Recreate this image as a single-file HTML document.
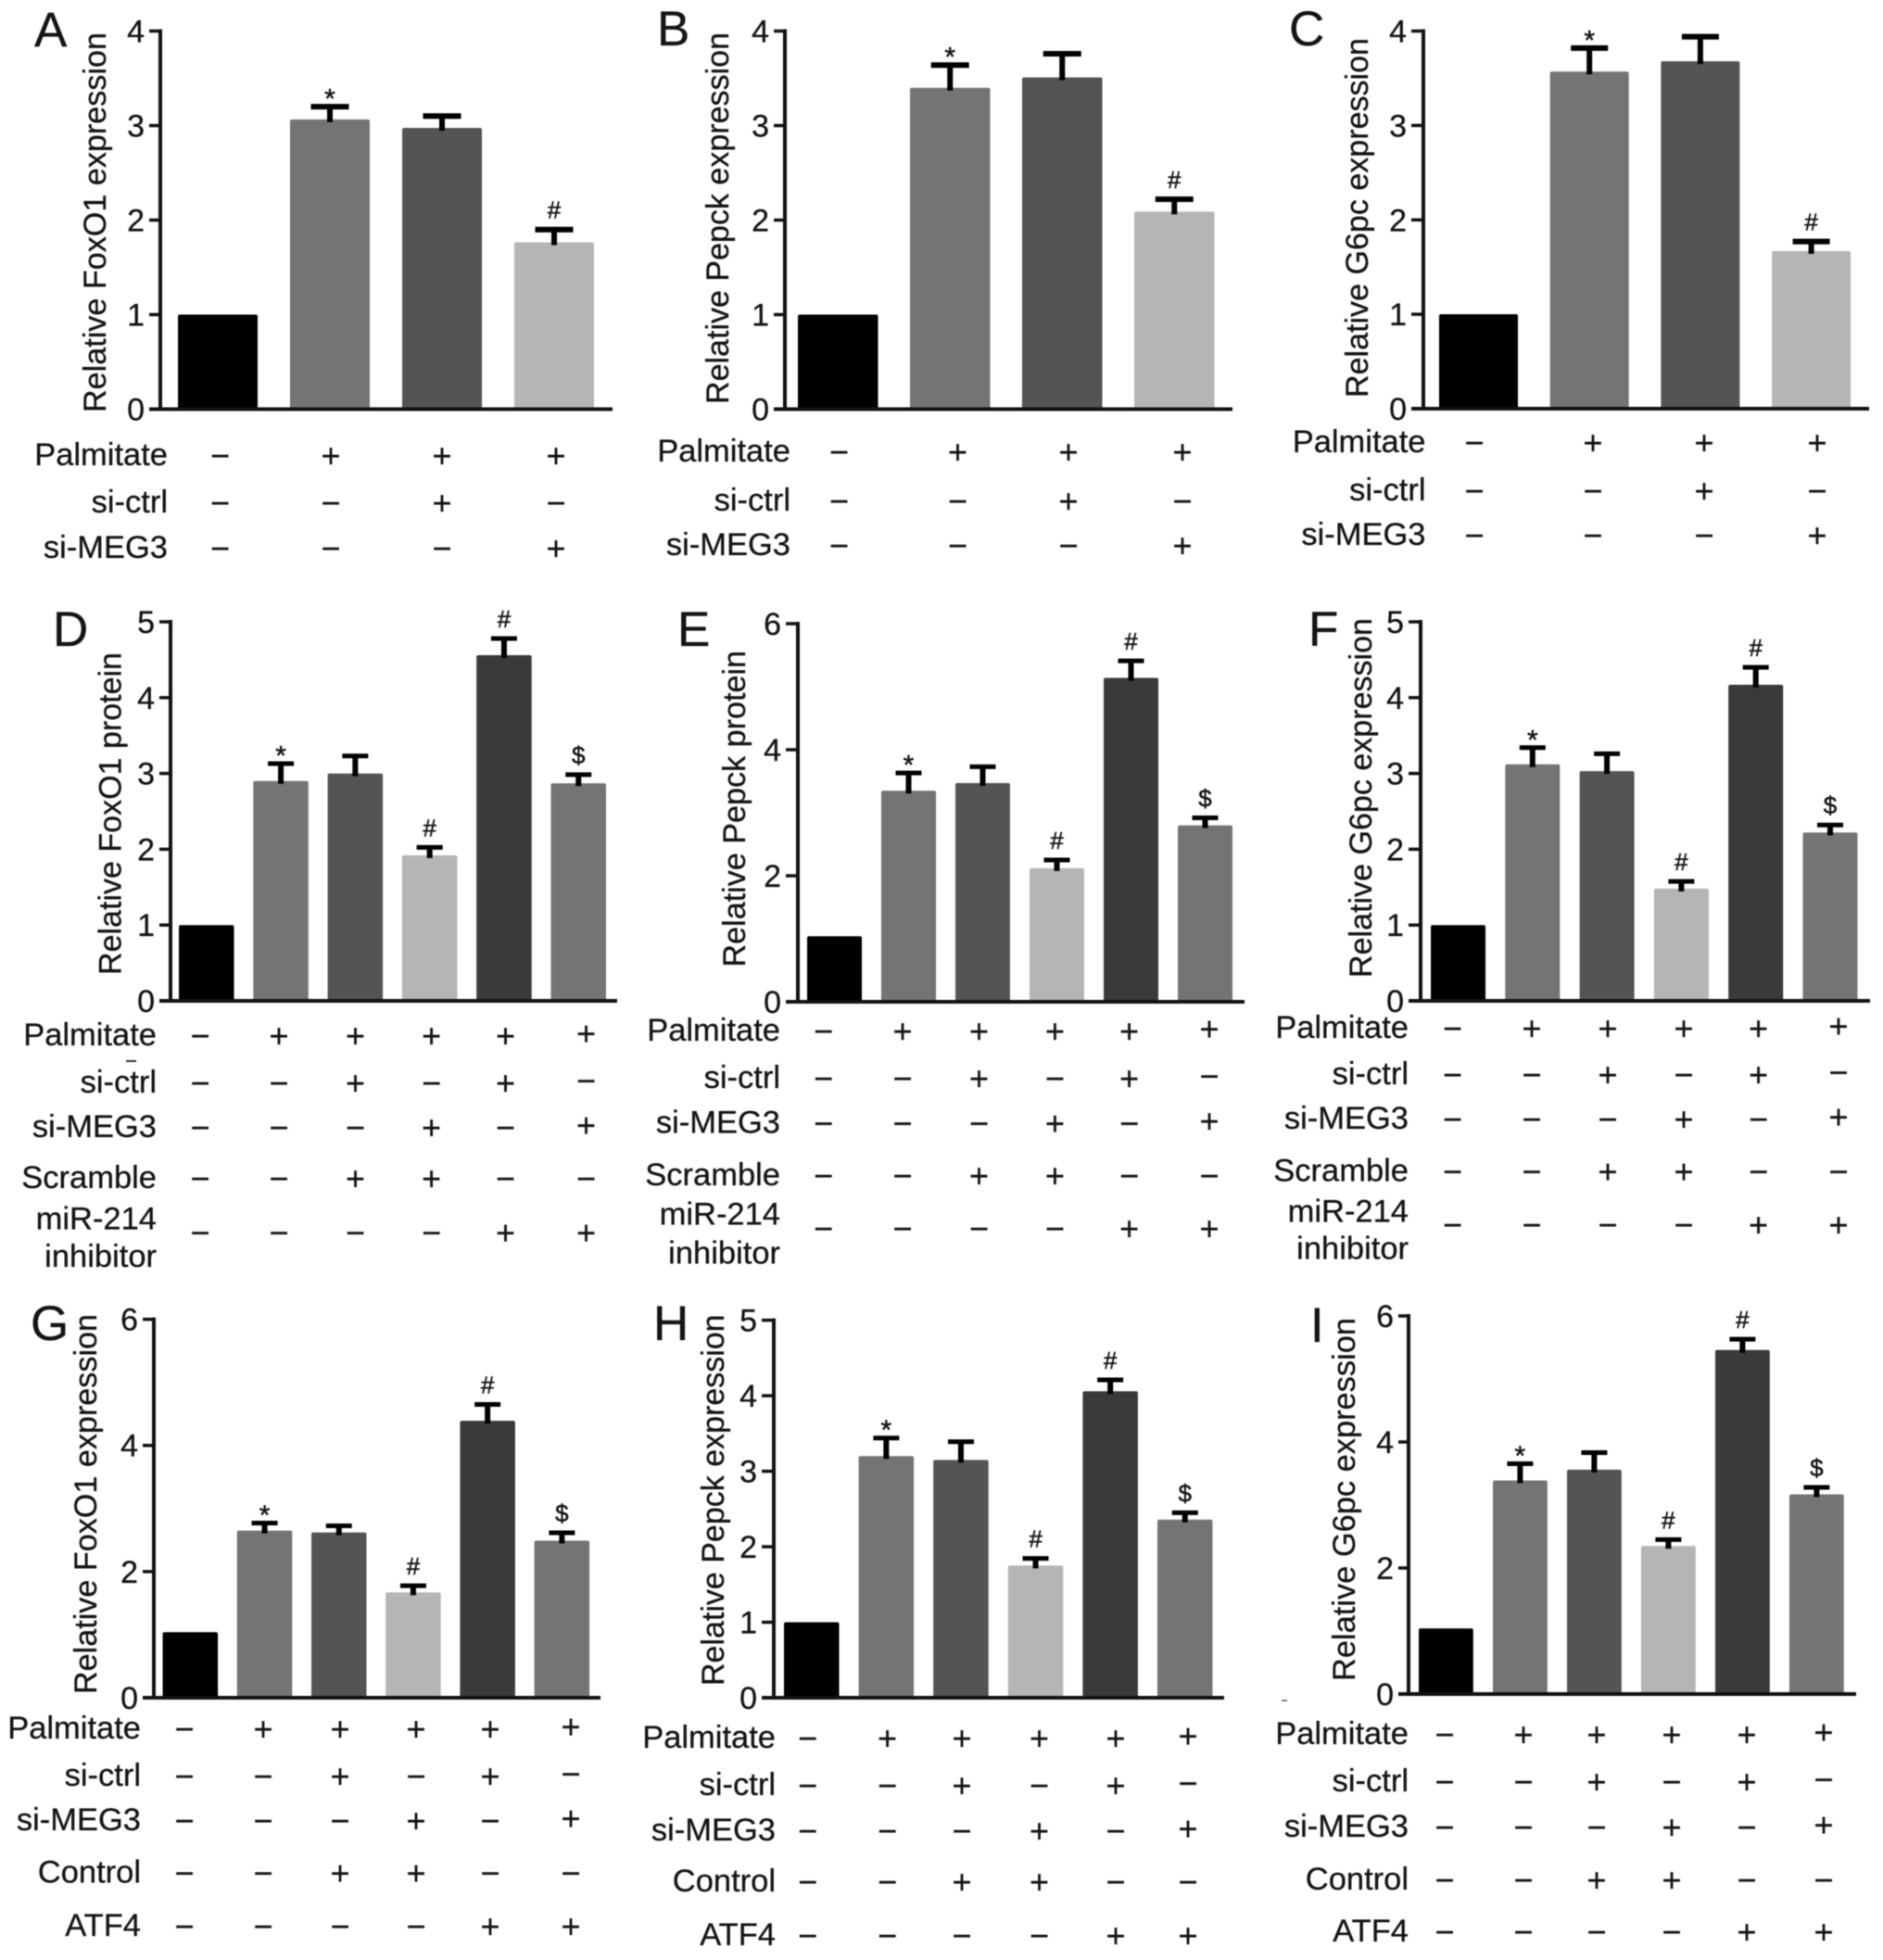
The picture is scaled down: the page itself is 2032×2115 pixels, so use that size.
<!DOCTYPE html>
<html lang="en">
<head>
<meta charset="utf-8">
<title>Relative expression bar charts</title>
<style>
html,body{margin:0;padding:0;background:#fff;}
#figure{display:block;width:2032px;height:2115px;filter:blur(0.6px);font-family:"Liberation Sans",Arial,sans-serif;}
text{fill:#141414;stroke:#141414;stroke-width:0.3px;}
</style>
</head>
<body>
<svg id="figure" xmlns="http://www.w3.org/2000/svg" width="2032" height="2115" viewBox="0 0 2032 2115"></svg>
<script>
// ---------- data ----------
const ticksAB = [0, 1, 2, 3, 4];
const ticks5 = [0, 1, 2, 3, 4, 5];
const ticks6 = [0, 2, 4, 6];
const barColors4 = ['#000000', '#747474', '#545454', '#b5b5b5'];
const barColors6 = ['#000000', '#747474', '#545454', '#b5b5b5', '#3a3a3a', '#747474'];

const valuesA = [1, 3.065, 2.975, 1.765];
const errorsA = [0, 0.135, 0.125, 0.135];
const marksA = ['', '*', '', '#'];
const valuesB = [1, 3.40, 3.51, 2.09];
const errorsB = [0, 0.24, 0.25, 0.13];
const marksB = ['', '*', '', '#'];
const valuesC = [1, 3.57, 3.68, 1.67];
const errorsC = [0, 0.25, 0.26, 0.10];
const marksC = ['', '*', '', '#'];

const valuesD = [1, 2.90, 3.00, 1.92, 4.56, 2.87];
const errorsD = [0, 0.23, 0.23, 0.105, 0.22, 0.115];
const valuesE = [1.04, 3.35, 3.47, 2.12, 5.14, 2.80];
const errorsE = [0, 0.28, 0.26, 0.13, 0.27, 0.12];
const valuesF = [1, 3.12, 3.03, 1.48, 4.17, 2.22];
const errorsF = [0, 0.22, 0.23, 0.095, 0.23, 0.10];
const valuesG = [1.04, 2.65, 2.62, 1.67, 4.39, 2.49];
const errorsG = [0, 0.12, 0.105, 0.105, 0.26, 0.125];
const valuesH = [1, 3.20, 3.15, 1.75, 4.06, 2.36];
const errorsH = [0, 0.24, 0.24, 0.095, 0.15, 0.09];
const valuesI = [1.04, 3.39, 3.56, 2.35, 5.46, 3.17];
const errorsI = [0, 0.265, 0.27, 0.10, 0.17, 0.11];
const marks6 = ['', '*', '', '#', '#', '$'];

const treatmentNames3 = ['Palmitate', 'si-ctrl', 'si-MEG3'];
const treatments3 = ['-+++', '--+-', '---+'];
const treatmentNamesMir = ['Palmitate', 'si-ctrl', 'si-MEG3', 'Scramble', 'miR-214 inhibitor'];
const treatmentNamesAtf = ['Palmitate', 'si-ctrl', 'si-MEG3', 'Control', 'ATF4'];
const treatments5 = ['-+++++', '--+-+-', '---+-+', '--++--', '----++'];

// ---------- layout (pixels) ----------
const panels = [
  {id:'A', title:'Relative FoxO1 expression', values:valuesA, errors:errorsA, marks:marksA, ticks:ticksAB, colors:barColors4, names:treatmentNames3, matrix:treatments3,
   axisX:173, top:33.5, base:441.5, right:661, tickStart:161, barStart:192, barW:86, barStep:121, capW:41, capH:6,
   rows:[492,543,592], cols:[237.5,357,477,600], labelRight:181, titleX:103, titleA:445, titleB:35, letterX:37, letterY:50},
  {id:'B', title:'Relative Pepck expression', values:valuesB, errors:errorsB, marks:marksB, ticks:ticksAB, colors:barColors4, names:treatmentNames3, matrix:treatments3,
   axisX:847, top:33.5, base:441.5, right:1330, tickStart:835, barStart:861, barW:86.5, barStep:121, capW:41, capH:6,
   rows:[488,541,589], cols:[905.5,1033.5,1153,1276], labelRight:853, titleX:775, titleA:436, titleB:35, letterX:709, letterY:49},
  {id:'C', title:'Relative G6pc expression', values:valuesC, errors:errorsC, marks:marksC, ticks:ticksAB, colors:barColors4, names:treatmentNames3, matrix:treatments3,
   axisX:1536, top:33.5, base:441, right:2017, tickStart:1523, barStart:1553, barW:85, barStep:119.7, capW:40, capH:6,
   rows:[478,530,578], cols:[1591,1719,1839,1961], labelRight:1538.5, titleX:1465, titleA:429, titleB:41, letterX:1391, letterY:49},
  {id:'D', title:'Relative FoxO1 protein', values:valuesD, errors:errorsD, marks:marks6, ticks:ticks5, colors:barColors6, names:treatmentNamesMir, matrix:treatments5,
   axisX:184, top:671, base:1080, right:666, tickStart:172, barStart:193, barW:59.5, barStep:80.3, capW:28, capH:5,
   rows:[1118,1169,1217,1272,1330.5], mirLines:[1316,1356.5], cols:[216,301,383.5,465.6,545.5,632.5], labelRight:169, titleX:119.6, titleA:1052, titleB:704, letterX:57, letterY:697},
  {id:'E', title:'Relative Pepck protein', values:valuesE, errors:errorsE, marks:marks6, ticks:ticks6, colors:barColors6, names:treatmentNamesMir, matrix:treatments5,
   axisX:861, top:673, base:1081, right:1343, tickStart:848, barStart:871, barW:59, barStep:80, capW:28, capH:5,
   rows:[1113,1164,1212.5,1269,1326], mirLines:[1311,1353], cols:[888.6,974,1056.5,1138.4,1218.6,1305], labelRight:842, titleX:793, titleA:1043.5, titleB:702, letterX:731, letterY:697},
  {id:'F', title:'Relative G6pc expression', values:valuesF, errors:errorsF, marks:marks6, ticks:ticks5, colors:barColors6, names:treatmentNamesMir, matrix:treatments5,
   axisX:1533, top:671, base:1080, right:2018, tickStart:1520, barStart:1544, barW:59, barStep:80.3, capW:28, capH:5,
   rows:[1110,1160,1208,1264.5,1322], mirLines:[1308,1348], cols:[1567.5,1653,1735,1817,1897.6,1984], labelRight:1520, titleX:1469, titleA:1055, titleB:667, letterX:1412, letterY:697},
  {id:'G', title:'Relative FoxO1 expression', values:valuesG, errors:errorsG, marks:marks6, ticks:ticks6, colors:barColors6, names:treatmentNamesAtf, matrix:treatments5,
   axisX:166, top:1423.6, base:1832, right:648, tickStart:154, barStart:175.6, barW:59.5, barStep:80.2, capW:28, capH:5,
   rows:[1866,1917,1965,2021.6,2079], cols:[199,284,367,449,529,616], labelRight:152, titleX:93, titleA:1828, titleB:1418, letterX:33, letterY:1446},
  {id:'H', title:'Relative Pepck expression', values:valuesH, errors:errorsH, marks:marks6, ticks:ticks5, colors:barColors6, names:treatmentNamesAtf, matrix:treatments5,
   axisX:835, top:1424.6, base:1832, right:1321, tickStart:822, barStart:846, barW:59.5, barStep:80.6, capW:28, capH:5,
   rows:[1876,1927,1976,2031,2089], cols:[871.7,957.6,1038,1121.5,1204,1282], labelRight:837, titleX:770, titleA:1819, titleB:1418.4, letterX:705, letterY:1446},
  {id:'I', title:'Relative G6pc expression', values:valuesI, errors:errorsI, marks:marks6, ticks:ticks6, colors:barColors6, names:treatmentNamesAtf, matrix:treatments5,
   axisX:1520, top:1420, base:1828, right:2003, tickStart:1509, barStart:1531, barW:58.8, barStep:80, capW:28, capH:5,
   rows:[1872,1923,1972,2029,2085], cols:[1559,1644,1723,1804,1885,1968], labelRight:1520, titleX:1451, titleA:1814, titleB:1422, letterX:1414, letterY:1448}
];

// ---------- drawing ----------
const SVGNS = 'http://www.w3.org/2000/svg';
const svg = document.getElementById('figure');

function make(parent, tag, attrs, content) {
  const node = document.createElementNS(SVGNS, tag);
  for (const key in attrs) node.setAttribute(key, attrs[key]);
  if (content !== undefined) node.textContent = content;
  parent.appendChild(node);
  return node;
}

panels.forEach(function (p) {
  const domainMax = p.ticks[p.ticks.length - 1];
  const yScale = function (v) { return p.base - (v / domainMax) * (p.base - p.top); };
  const xScale = function (i) { return p.barStart + i * p.barStep; };

  const group = make(svg, 'g', {});
  
  

  const letter = make(group, 'text', {x: p.letterX, y: p.letterY, 'font-size': 53}, p.id);
  
  

  const title = make(group, 'text', {
    transform: 'translate(' + (p.titleX + 11) + ',' + p.titleA + ') rotate(-90)',
    'font-size': 34, textLength: p.titleA - p.titleB, lengthAdjust: 'spacingAndGlyphs'
  }, p.title);
  
  

  p.values.forEach(function (v, i) {
    const bx = xScale(i);
    const cx = bx + p.barW / 2;
    const bar = make(group, 'rect', {x: bx, y: yScale(v), width: p.barW, height: p.base - yScale(v), rx: 2, fill: p.colors[i]});
    
    

    if (p.errors[i] > 0) {
      const capY = yScale(v + p.errors[i]);
      const stem = make(group, 'line', {x1: cx, x2: cx, y1: yScale(v) + 3, y2: capY, stroke: '#000', 'stroke-width': 6});
      
      
      const cap = make(group, 'line', {x1: cx - p.capW / 2, x2: cx + p.capW / 2, y1: capY, y2: capY, stroke: '#000', 'stroke-width': p.capH});
      
      

      if (p.marks[i]) {
        const isStar = p.marks[i] === '*';
        const mark = make(group, 'text', {x: cx, y: capY + (isStar ? 1.5 : -12), 'font-size': isStar ? 30 : 26, 'text-anchor': 'middle', style: 'stroke-width:0.5px'}, p.marks[i]);
        
        
      }
    }
  });

  const yAxis = make(group, 'line', {x1: p.axisX, x2: p.axisX, y1: p.top - 2, y2: p.base + 2, stroke: '#111', 'stroke-width': 4});
  
  
  const xAxis = make(group, 'line', {x1: p.tickStart, x2: p.right, y1: p.base, y2: p.base, stroke: '#111', 'stroke-width': 4});
  
  

  p.ticks.forEach(function (t) {
    const ty = yScale(t);
    const tick = make(group, 'line', {x1: p.tickStart, x2: p.axisX, y1: ty, y2: ty, stroke: '#111', 'stroke-width': 3.5});
    
    
    const label = make(group, 'text', {x: p.tickStart - 5, y: ty + 12, 'font-size': 34, 'text-anchor': 'end'}, String(t));
    
    
  });

  p.names.forEach(function (name, r) {
    if (name.indexOf('inhibitor') > -1) {
      const line1 = make(group, 'text', {x: p.labelRight, y: p.mirLines[0] + 10.5, 'font-size': 34.5, 'text-anchor': 'end'}, 'miR-214');
      
      
      const line2 = make(group, 'text', {x: p.labelRight, y: p.mirLines[1] + 10.5, 'font-size': 34.5, 'text-anchor': 'end'}, 'inhibitor');
      
      
    } else {
      const rowLabel = make(group, 'text', {x: p.labelRight, y: p.rows[r] + 10, 'font-size': 34.5, 'text-anchor': 'end'}, name);
      
      
    }
    p.matrix[r].split('').forEach(function (s, c) {
      const lift = (c === 5 && r < 3) ? 2.5 : 0;
      const sym = make(group, 'text', {x: p.cols[c], y: p.rows[r] + 12 - lift, 'font-size': 36, 'text-anchor': 'middle'}, s === '+' ? '+' : '\u2212');
      
      
    });
  });
});

const speckD = make(svg, 'line', {x1: 136, x2: 147, y1: 1145, y2: 1145, stroke: '#333', 'stroke-width': 2});


const speckI = make(svg, 'line', {x1: 1383, x2: 1389, y1: 1835, y2: 1835, stroke: '#777', 'stroke-width': 2});


</script>
</body>
</html>
